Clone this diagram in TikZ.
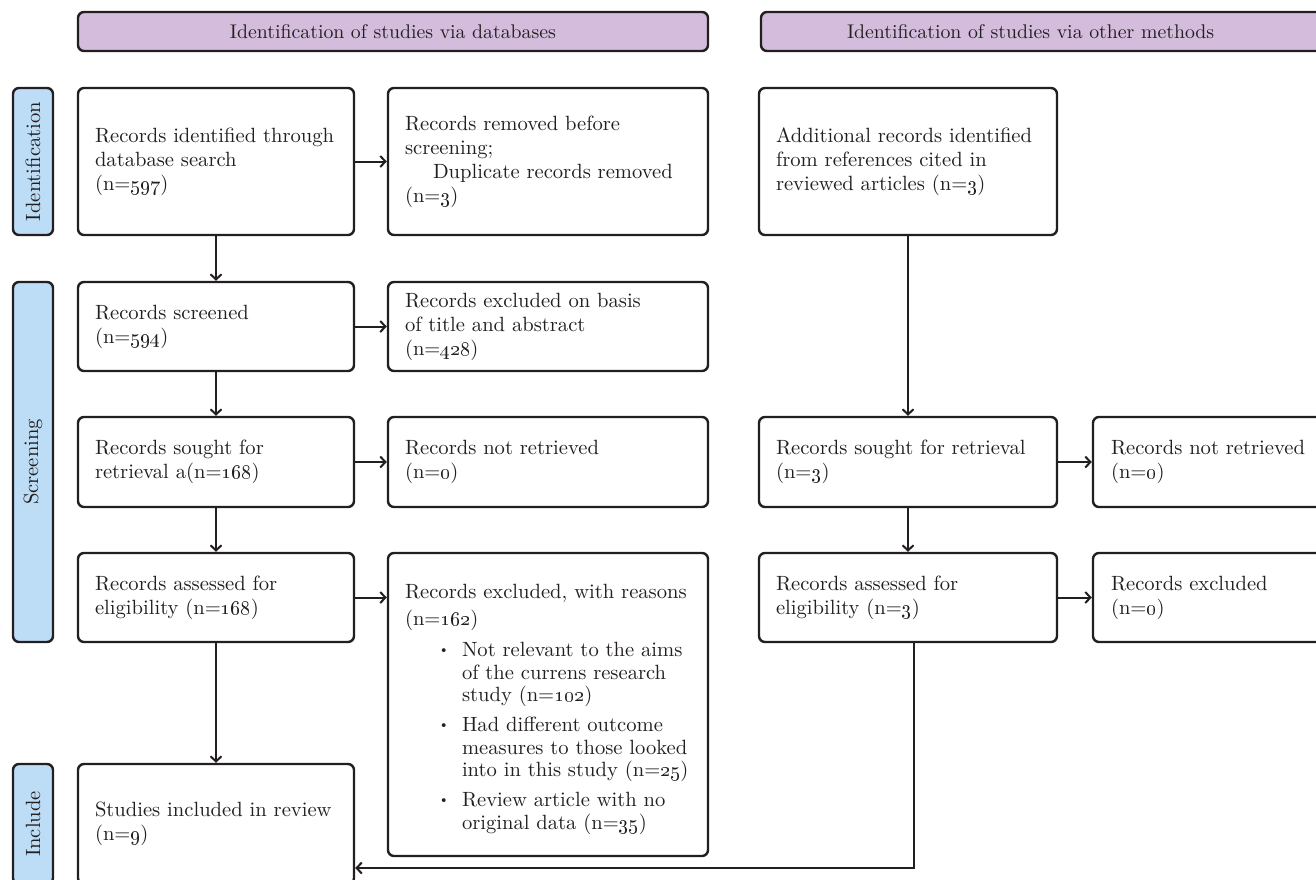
\documentclass[tikz,border=0pt]{standalone}
\usetikzlibrary{arrows.meta}
\definecolor{hdrpurple}{HTML}{D4BCDC}
\definecolor{sideblue}{HTML}{BDDDF6}
\definecolor{ink}{HTML}{231F20}
\newcommand{\on}[1]{\oldstylenums{#1}}
\newcommand{\smbul}{\makebox[12pt][l]{\raisebox{0.35ex}{\fontsize{6.5}{6.5}\selectfont\textbullet}}}
\begin{document}
\begin{tikzpicture}[x=0.5pt,y=-0.5pt,
  every node/.style={font=\fontsize{10.3}{12}\selectfont, text=ink},
  box/.style={draw=ink, line width=1.2pt, rounded corners=3pt, fill=white, inner sep=0pt, align=left},
  lcol/.style={box, minimum width=138pt, text width=121pt},
  mcol/.style={box, minimum width=160pt, text width=143pt},
  rcol/.style={box, minimum width=149pt, text width=132pt},
  fcol/.style={box, minimum width=123.5pt, text width=105.5pt},
  hdr/.style={draw=ink, line width=1.2pt, rounded corners=3pt, fill=hdrpurple, inner sep=0pt, minimum height=19.5pt, font=\fontsize{9.9}{12}\selectfont},
  side/.style={draw=ink, line width=1.2pt, rounded corners=3pt, fill=sideblue, inner sep=0pt, rotate=90, minimum height=20pt, font=\fontsize{10.3}{12}\selectfont},
  arr/.style={draw=ink, line width=1pt, -{Straight Barb[length=2.6pt,width=5.5pt,line width=1pt]}}
]
\useasboundingbox (0,0) rectangle (1316,879);
\clip (0,0) rectangle (1316,879);

% headers
\node[hdr, minimum width=315pt] (h1) at (393,31.5) {Identification of studies via databases};
\node[hdr, minimum width=289.5pt, text width=203.5pt, align=left] (h2) at (1050.5,31.5) {Identification of studies via other methods};

% side labels
\node[side, minimum width=73.5pt] (s1) at (33,161.5) {Identification};
\node[side, minimum width=180pt] (s2) at (33,462) {Screening};
\node[side, minimum width=60pt] (s3) at (33,824) {Include};

% left column
\node[lcol, minimum height=73.5pt] (l1) at (216,161.5) {Records identified through\\database search\\(n=\on{597})};
\node[lcol, minimum height=44.5pt] (l2) at (216,326.5) {Records screened\\(n=\on{594})};
\node[lcol, minimum height=45pt] (l3) at (216,462) {Records sought for\\retrieval a(n=\on{168})};
\node[lcol, minimum height=44.5pt] (l4) at (216,597.5) {Records assessed for\\eligibility (n=\on{168})};
\node[lcol, minimum height=60pt] (l5) at (216,824) {Studies included in review\\(n=\on{9})};

% middle column
\node[mcol, minimum height=73.5pt] (m1) at (548,161.5) {Records removed before\\screening;\\\hspace*{14pt}Duplicate records removed\\(n=\on{3})};
\node[mcol, minimum height=44.5pt] (m2) at (548,326.5) {Records excluded on basis\\of title and abstract\\(n=\on{428})};
\node[mcol, minimum height=45pt] (m3) at (548,462) {Records not retrieved\\(n=\on{0})};
\node[mcol, minimum height=151.5pt, font=\fontsize{10.3}{11.3}\selectfont] (m4) at (548,704.5) {Records excluded, with reasons\\[2.2pt]
(n=\on{162})\\[4.2pt]
\hspace*{16.5pt}\smbul Not relevant to the aims\\
\hspace*{28.5pt}of the currens research\\
\hspace*{28.5pt}study (n=\on{102})\\[3.7pt]
\hspace*{16.5pt}\smbul Had different outcome\\
\hspace*{28.5pt}measures to those looked\\
\hspace*{28.5pt}into in this study (n=\on{25})\\[3.7pt]
\hspace*{16.5pt}\smbul Review article with no\\
\hspace*{28.5pt}original data (n=\on{35})\par\vspace{-5pt}};

% right column
\node[rcol, minimum height=73.5pt] (r1) at (908,161.5) {Additional records identified\\from references cited in\\reviewed articles (n=\on{3})};
\node[rcol, minimum height=45pt] (r3) at (908,462) {Records sought for retrieval\\(n=\on{3})};
\node[rcol, minimum height=44.5pt] (r4) at (908,597.5) {Records assessed for\\eligibility (n=\on{3})};

% far right column
\node[fcol, minimum height=45pt] (f3) at (1216.5,462) {Records not retrieved\\(n=\on{0})};
\node[fcol, minimum height=44.5pt] (f4) at (1216.5,597.5) {Records excluded\\(n=\on{0})};

% connectors
\draw[arr] (l1) -- (l2);
\draw[arr] (l2) -- (l3);
\draw[arr] (l3) -- (l4);
\draw[arr] (l4) -- (l5);
\draw[arr] (l1) -- (m1);
\draw[arr] (l2) -- (m2);
\draw[arr] (l3) -- (m3);
\draw[arr] (l4.east) -- (l4.east -| m4.west);
\draw[arr] (r1) -- (r3);
\draw[arr] (r3) -- (r4);
\draw[arr] (r3) -- (f3);
\draw[arr] (r4) -- (f4);
\coordinate (bend) at (914,868);
\draw[arr] (r4.south -| bend) -- (bend) -- (bend -| l5.east);
\end{tikzpicture}
\end{document}
